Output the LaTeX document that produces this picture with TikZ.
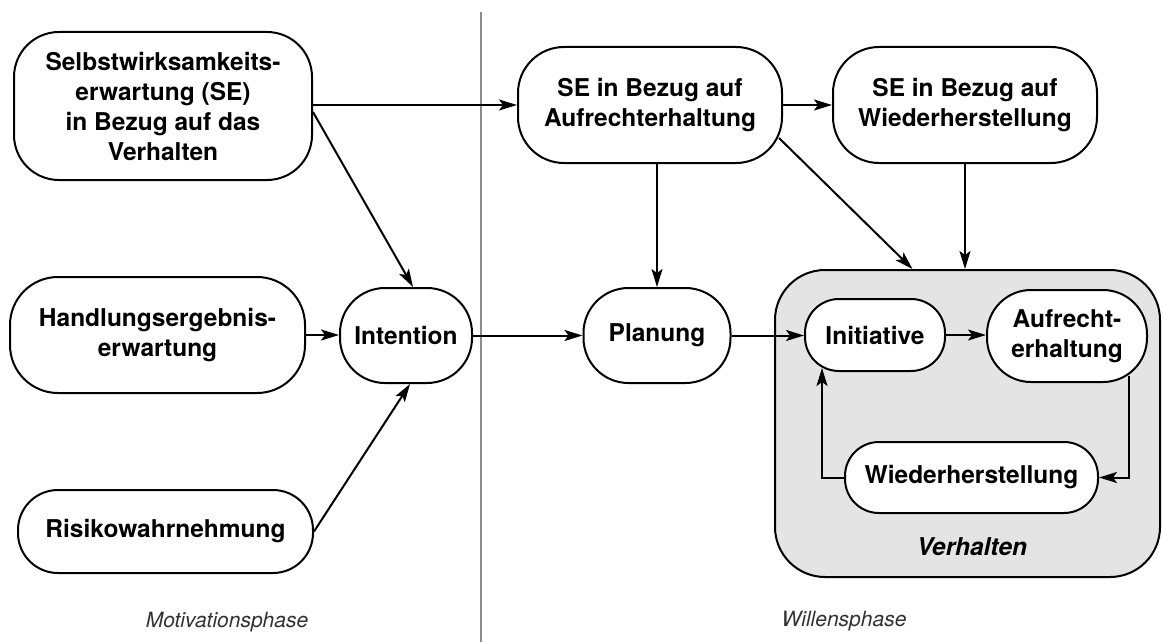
\documentclass[tikz,border=0pt]{standalone}
\usepackage{fontspec}
\setmainfont{TeX Gyre Heros}
\usetikzlibrary{arrows.meta}
\definecolor{boxgray}{RGB}{228,228,228}
\definecolor{divgray}{RGB}{140,140,140}
\definecolor{phasetxt}{RGB}{50,50,50}
\tikzset{
  rbox/.style={draw, fill=white, line width=2pt, rounded corners=#1, align=center,
    inner sep=0pt, font=\bfseries\fontsize{24.5}{30}\selectfont},
  grp/.style={draw, fill=boxgray, line width=2pt, rounded corners=50pt, inner sep=0pt},
  arr/.style={-{Stealth[length=18pt,width=11pt,inset=4pt]}, line width=2pt},
  phase/.style={font=\itshape\fontsize{21}{25}\selectfont, text=phasetxt},
  grplabel/.style={font=\bfseries\itshape\fontsize{24.5}{30}\selectfont}
}
\begin{document}
\begin{tikzpicture}[x=1pt,y=-1pt]
\useasboundingbox (0,0) rectangle (1163,642);
% divider
\coordinate (divtop) at (481,12);
\coordinate (divbot) at (481,642);
\draw[divgray, line width=2pt] (divtop) -- (divbot);
% group box
\node[grp, minimum width=385pt, minimum height=307pt] (verh) at (967.5,423.5) {};
\node[grplabel] (verhlab) at (972,547) {Verhalten};
% left nodes
\node[rbox=45pt, minimum width=298pt, minimum height=148pt] (se) at (163,106)
  {Selbstwirksamkeits-\\erwartung (SE)\\in Bezug auf das\\Verhalten};
\node[rbox=48pt, minimum width=295pt, minimum height=116pt] (hand) at (157.5,335)
  {Handlungsergebnis-\\erwartung};
\node[rbox=40pt, minimum width=295pt, minimum height=83pt] (risk) at (165.5,531.5)
  {Risikowahrnehmung};
\node[rbox=45pt, minimum width=132pt, minimum height=95pt] (int) at (406,335.5)
  {Intention};
% right nodes
\node[rbox=46pt, minimum width=264pt, minimum height=116pt] (sea) at (650,105)
  {SE in Bezug auf\\Aufrechterhaltung};
\node[rbox=46pt, minimum width=264pt, minimum height=116pt] (sew) at (965,105)
  {SE in Bezug auf\\Wiederherstellung};
\node[rbox=45pt, minimum width=147pt, minimum height=95pt] (plan) at (657,335.5)
  {Planung};
\node[rbox=34pt, minimum width=140pt, minimum height=72pt] (ini) at (875,335)
  {Initiative};
\node[rbox=44pt, minimum width=160pt, minimum height=92pt] (auf) at (1067,336)
  {Aufrecht-\\erhaltung};
\node[rbox=34pt, minimum width=253pt, minimum height=71pt] (wie) at (971.5,477.5)
  {Wiederherstellung};
% phase labels
\node[phase] (mot) at (227,622) {Motivationsphase};
\node[phase] (wil) at (844,621) {Willensphase};
% connectors
\draw[arr] ([yshift=1pt]se.east) -- ([yshift=1pt]se.east -| sea.west);
\draw[arr] ([yshift=-6pt]se.east) -- ([xshift=7pt]int.north);
\draw[arr] (hand.east) -- (hand.east -| int.west);
\draw[arr] (risk.east) -- ([xshift=4pt]int.south);
\draw[arr] (int.east) -- (int.east -| plan.west);
\draw[arr] (sea.east) -- (sea.east -| sew.west);
\draw[arr] (sea.south -| plan.north) -- (plan.north);
\draw[arr] ([xshift=-4pt,yshift=26pt]sea.south east) -- ([xshift=-55pt]verh.north);
\draw[arr] (sew.south) -- (sew.south |- verh.north);
\draw[arr] (plan.east) -- (plan.east -| ini.west);
\draw[arr] (ini.east) -- (ini.east -| auf.west);
\draw[arr] ([xshift=-19pt,yshift=7pt]auf.south east) |- (wie.east);
\draw[arr] (wie.west) -| ([xshift=18pt,yshift=4pt]ini.south west);
\end{tikzpicture}
\end{document}
